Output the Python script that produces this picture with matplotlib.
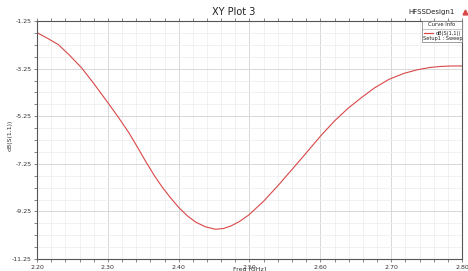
#! /usr/bin/env python3

import matplotlib
matplotlib.use("Agg")
import matplotlib.pyplot as plt
from matplotlib.lines import Line2D
from matplotlib.patches import Rectangle
import numpy

"""
Valeurs lues sur la courbe dB(S(1,1)).
"""

freq = [2.200, 2.215, 2.230, 2.245, 2.263, 2.280, 2.300, 2.315, 2.330, 2.342,
        2.354, 2.366, 2.377, 2.388, 2.400, 2.412, 2.424, 2.438, 2.452, 2.463,
        2.474, 2.486, 2.499, 2.520, 2.541, 2.569, 2.587, 2.601, 2.620, 2.639,
        2.658, 2.676, 2.697, 2.718, 2.737, 2.755, 2.770, 2.785, 2.800]
s11 = [-1.74, -1.98, -2.24, -2.66, -3.22, -3.87, -4.68, -5.30, -5.96, -6.56,
       -7.18, -7.76, -8.24, -8.66, -9.08, -9.43, -9.70, -9.90, -10.00, -9.97,
       -9.86, -9.67, -9.40, -8.82, -8.14, -7.18, -6.55, -6.06, -5.45, -4.92,
       -4.47, -4.07, -3.70, -3.45, -3.30, -3.20, -3.16, -3.14, -3.14]

yticks = [-1.25, -3.25, -5.25, -7.25, -9.25, -11.25]
xticks = [2.20, 2.30, 2.40, 2.50, 2.60, 2.70, 2.80]

W, H = 468, 271
red = "#d84848"

"""
Figure.
"""

fig = plt.figure(figsize=(W / 100, H / 100), dpi=100)
ax = fig.add_axes([37 / W, 12 / H, 425 / W, 238 / H])

ax.plot(freq, s11, color=red, lw=0.8)

ax.set_xlim(2.2, 2.8)
ax.set_ylim(-11.25, -1.25)
ax.set_xticks(xticks)
ax.set_xticklabels([f"{v:.2f}" for v in xticks])
ax.set_yticks(yticks)
ax.set_yticklabels([f"{v:.2f}" for v in yticks])
ax.set_xticks(numpy.arange(2.2, 2.8001, 0.02), minor=True)
ax.set_yticks(numpy.arange(-11.25, -1.2499, 0.5), minor=True)

ax.grid(which="minor", color="#efefef", lw=0.6)
ax.grid(which="major", color="#d8d8d8", lw=0.7)
ax.set_axisbelow(True)

ax.tick_params(which="both", direction="out", length=2.5, width=0.5,
               colors="#555555", labelsize=4.5, labelcolor="#333333",
               top=True, right=False, pad=1.5)
ax.tick_params(which="minor", length=2)
for s in ax.spines.values():
    s.set_color("#555555")
    s.set_linewidth(0.8)

ax.set_xlabel("Freq [GHz]", fontsize=4.5, labelpad=-1.8, color="#333333")
fig.text(10 / W, 0.5, "dB(S(1,1))", rotation=90, ha="center", va="center",
         fontsize=4.5, color="#333333")

fig.text(0.5, 0.955, "XY Plot 3", ha="center", va="center", fontsize=7,
         color="#222222")
fig.text(0.972, 0.955, "HFSSDesign1", ha="right", va="center", fontsize=5,
         color="#222222")
fig.lines.append(Line2D([465 / W], [259 / H], marker="^", color=red,
                        markersize=3.5, transform=fig.transFigure))

"""
Encadré Curve Info, placé en pixels depuis le haut.
"""

def fx(x):
    return x / W

def fy(y):
    return 1 - y / H

fig.patches.append(Rectangle((fx(422), fy(42)), fx(40), 21 / H, fill=True,
                             facecolor="white", edgecolor="#777777", lw=0.5,
                             transform=fig.transFigure, zorder=5))
fig.lines.append(Line2D([fx(422), fx(462)], [fy(28.5), fy(28.5)],
                        color="#999999", lw=0.4, transform=fig.transFigure,
                        zorder=6))
fig.text(fx(442), fy(24.8), "Curve Info", ha="center", va="center",
         fontsize=3.8, color="#222222", zorder=7)
fig.lines.append(Line2D([fx(424), fx(433)], [fy(33), fy(33)], color=red,
                        lw=0.9, transform=fig.transFigure, zorder=7))
fig.text(fx(460.5), fy(33), "dB(S(1,1))", ha="right", va="center",
         fontsize=3.6, color="#222222", zorder=7)
fig.text(fx(423), fy(38.3), "Setup1 : Sweep", ha="left", va="center",
         fontsize=3.6, color="#222222", zorder=7)

fig.savefig("out.png", dpi=100)
